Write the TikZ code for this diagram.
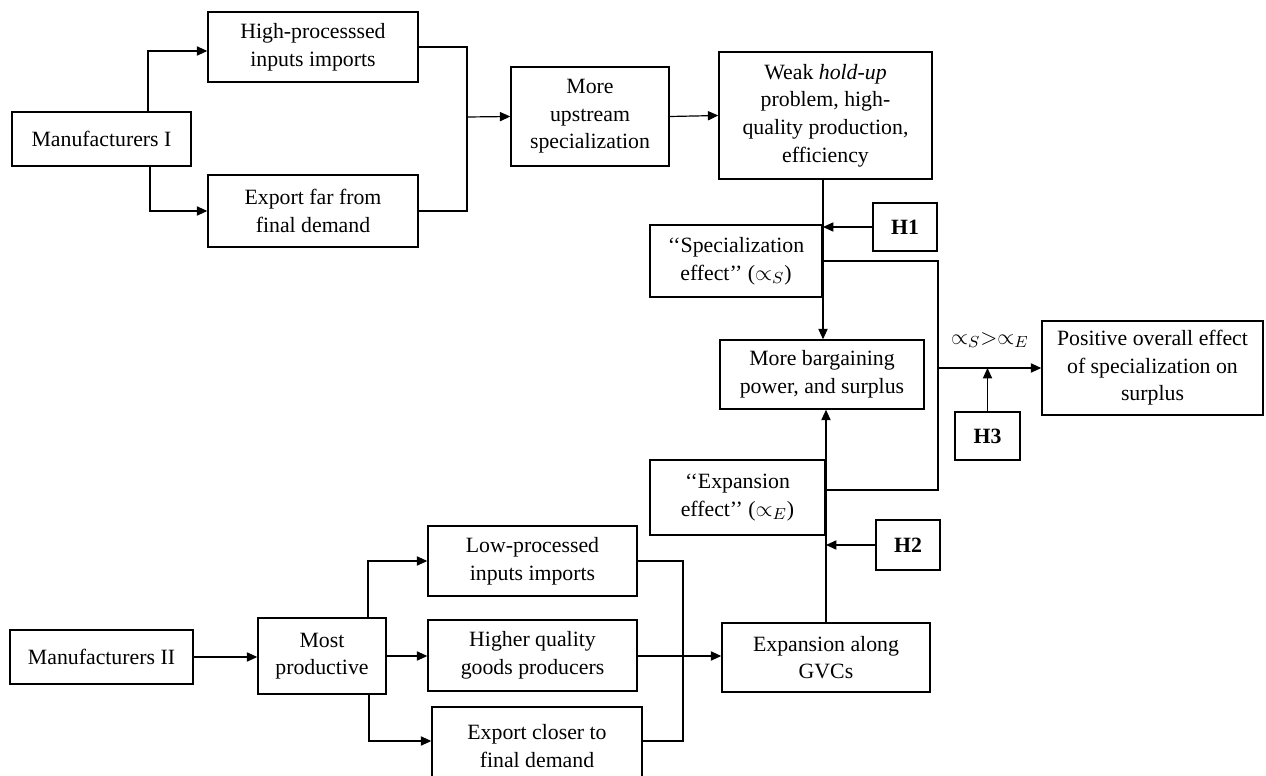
\documentclass[tikz,border=0pt]{standalone}
\usepackage{fontspec}
\setmainfont{Liberation Serif}
\usetikzlibrary{arrows.meta,calc}
\begin{document}
\begin{tikzpicture}[x=0.5pt,y=-0.5pt,
  every node/.style={font=\fontsize{10.9}{13.8}\selectfont},
  bx/.style={draw, line width=0.7pt, align=center, inner sep=1pt},
  sz/.style 2 args={minimum width=#1*0.5pt, minimum height=#2*0.5pt},
  ln/.style={line width=0.6pt},
  ar/.style={ln, -{Triangle[length=5.2pt,width=4.6pt]}}]
\useasboundingbox (0,0) rectangle (1266,776);

\node[bx,sz={179}{54}] (m1) at (101.5,139) {Manufacturers I};
\node[bx,sz={210}{70}] (hp) at (313,47) {High-processsed\\inputs imports};
\node[bx,sz={210}{72}] (ef) at (313,211) {Export far from\\final demand};
\node[bx,sz={158}{99}] (mu) at (590,116.5) {More\\upstream\\specialization};
\node[bx,sz={213}{127}] (wk) at (825.5,115.5) {Weak \textit{hold-up}\\problem, high-\\quality production,\\efficiency};
\node[bx,sz={64}{48}] (h1) at (905,227) {\textbf{H1}};
\node[bx,sz={172}{72}] (se) at (736,261) {‘‘Specialization\\effect’’ ($\propto_S$)};
\node[bx,sz={204}{69}] (mb) at (822,374.5) {More bargaining\\power, and surplus};
\node[bx,sz={221}{94}] (pos) at (1152.5,368) {Positive overall effect\\of specialization on\\surplus};
\node[bx,sz={65}{48}] (h3) at (987.5,436) {\textbf{H3}};
\node[bx,sz={175}{75}] (ee) at (737.5,497.5) {‘‘Expansion\\effect’’ ($\propto_E$)};
\node[bx,sz={64}{50}] (h2) at (908,545) {\textbf{H2}};
\node[bx,sz={209}{70}] (lp) at (532.5,561) {Low-processed\\inputs imports};
\node[bx,sz={209}{71}] (hq) at (532.5,655.5) {Higher quality\\goods producers};
\node[bx,sz={210}{78}] (ec) at (537,746) {Export closer to\\final demand};
\node[bx,sz={183}{54}] (m2) at (101.5,657) {Manufacturers II};
\node[bx,sz={128}{76}] (mp) at (322,656) {Most\\productive};
\node[bx,sz={208}{69}] (gv) at (826,657.5) {Expansion along\\GVCs};

\node (lab) at (990,340) {$\mathord{\propto}_S\mathord{>}\mathord{\propto}_E$};

\coordinate (j1) at (467,117);
\coordinate (v1) at (823,229);
\coordinate (j3) at (938,368);
\coordinate (v2) at (826,549);
\coordinate (j4) at (683,656);

\draw[ar] ($(m1.north)+(46.5,0)$) |- ([yshift=-2pt]hp.west);
\draw[ar] ($(m1.south)+(48.5,0)$) |- (ef.west);
\draw[ln] (hp.east) -| (j1);
\draw[ln] (ef.east) -| (j1);
\draw[ar] (j1) -- (mu.west);
\draw[ar] (mu.east) -- (wk.west);
\draw[ar] (wk.south -| v1) -- (mb.north -| v1);
\draw[ar] (h1.west) -- (h1.west -| v1);
\draw[ln] (se.east) -| (j3) |- ([yshift=3.75pt]ee.east);
\draw[ar] (j3) -- (pos.west);
\draw[ar] (h3.north) -- (h3.north |- j3);
\draw[ar] (gv.north -| v2) -- (mb.south -| v2);
\draw[ar] (h2.west) -- (h2.west -| v2);
\draw[ar] (m2.east) -- (m2.east -| mp.west);
\draw[ar] ($(mp.north)+(46,0)$) |- (lp.west);
\draw[ar] (mp.east) -- (mp.east -| hq.west);
\draw[ar] ($(mp.south)+(47,0)$) |- ([yshift=2.5pt]ec.west);
\draw[ln] (lp.east) -| (j4);
\draw[ln] ([yshift=2.5pt]ec.east) -| (j4);
\draw[ar] (hq.east |- j4) -- (j4 -| gv.west);
\end{tikzpicture}
\end{document}
